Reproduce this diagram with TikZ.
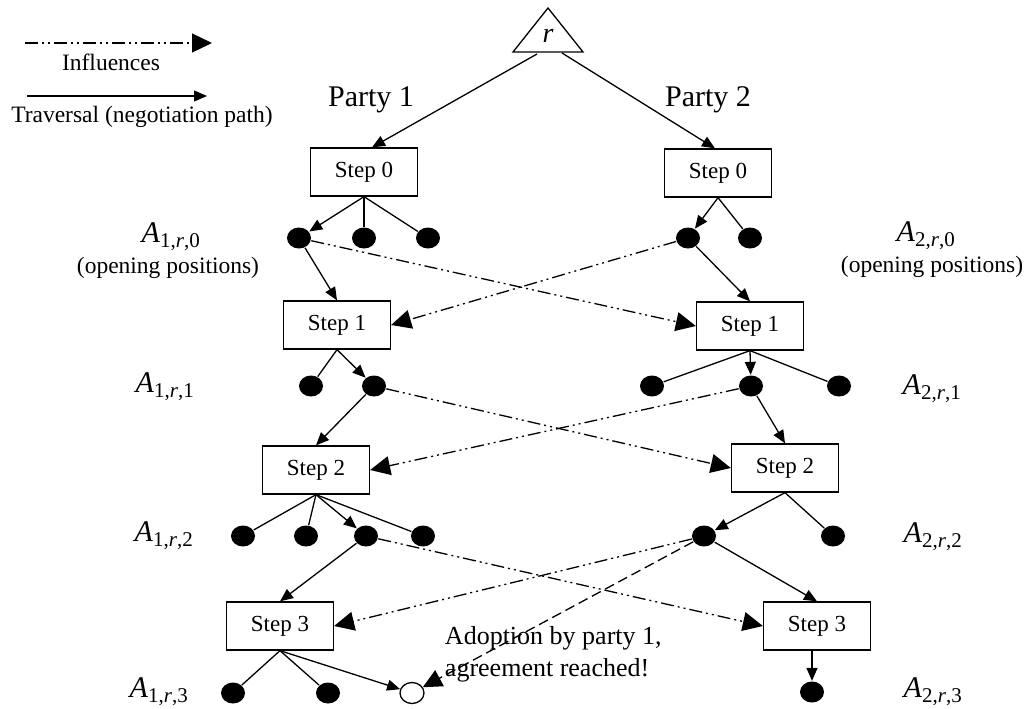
\documentclass[tikz,border=0pt]{standalone}
\usepackage{fontspec}
\setmainfont{Liberation Serif}
\usetikzlibrary{arrows.meta,shapes.geometric}

\begin{document}
\begin{tikzpicture}[x=1pt,y=-1pt,line width=1.3pt]
    \tikzstyle{stepbox}=[rectangle,draw,minimum width=107pt,minimum height=48pt,inner sep=0pt,font=\fontsize{23}{27}\selectfont]
    \tikzstyle{posdot}=[ellipse,fill=black,minimum width=24pt,minimum height=21pt,inner sep=0pt]
    \tikzstyle{adopted}=[ellipse,draw,fill=white,minimum width=24pt,minimum height=21pt,inner sep=0pt]
    \tikzstyle{trav}=[-{Triangle[length=13pt,width=11pt]}]
    \tikzstyle{infl}=[dash pattern=on 13pt off 4pt on 2pt off 4pt on 2pt off 4pt,-{Triangle[length=20pt,width=19pt]}]
    \tikzstyle{adoptline}=[dash pattern=on 10pt off 5pt,-{Triangle[length=19pt,width=18pt]}]
    \tikzstyle{lbl}=[font=\fontsize{23.5}{28}\selectfont]
    \tikzstyle{setname}=[font=\fontsize{30}{34}\selectfont,inner sep=0pt]

    \useasboundingbox (0,0) rectangle (1026,709);

    % legend
    \coordinate (inf-a) at (25,43);
    \coordinate (inf-b) at (212,43);
    \coordinate (trv-a) at (27,96);
    \coordinate (trv-b) at (207,96);
    \draw[infl] (inf-a) -- (inf-b);
    \draw[trav] (trv-a) -- (trv-b);
    \node[lbl] (inf-t) at (111,62) {Influences};
    \node[lbl] (trv-t) at (142,117) {Traversal (negotiation path)};

    % root
    \node[font=\fontsize{28}{30}\selectfont] (root) at (548,36) {\textit{r}};
    \draw (513,52) -- (548,8) -- (583,52) -- cycle;
    \coordinate (root-l) at (537,54);
    \coordinate (root-r) at (562,53);
    \node[font=\fontsize{30}{34}\selectfont] (party1) at (371,100) {Party 1};
    \node[font=\fontsize{30}{34}\selectfont] (party2) at (708,100) {Party 2};

    % steps and positions
    \foreach \p/\s/\x/\y in {1/0/364/172, 1/1/337/325, 1/2/316/470, 1/3/280/626,
                             2/0/718/173, 2/1/750/326, 2/2/785/468, 2/3/817/626}
        \node[stepbox] (S\p-\s) at (\x,\y) {Step \s};
    \foreach \p/\s/\k/\x/\y in {1/0/1/299/238, 1/0/2/364/238, 1/0/3/428/238,
                                2/0/1/688/238, 2/0/2/750/238,
                                1/1/1/311/386, 1/1/2/374/386,
                                2/1/1/652/386, 2/1/2/751/386, 2/1/3/839/386,
                                1/2/1/243/536, 1/2/2/306/536, 1/2/3/366/536, 1/2/4/423/536,
                                2/2/1/704/536, 2/2/2/833/536,
                                1/3/1/233/693, 1/3/2/328/693, 2/3/1/812/692}
        \node[posdot] (P\p-\s-\k) at (\x,\y) {};
    \node[adopted] (agree) at (412,693) {};

    % set labels
    \foreach \p/\s/\x/\y in {1/0/171/237, 1/1/165/387, 1/2/164/536, 1/3/159/692,
                             2/0/926/236, 2/1/932/389, 2/2/933/537, 2/3/933/692}
        \node[setname] (A\p-\s) at (\x,\y) {\textit{A}\textsubscript{\p,\textit{r},\s}};
    \node[lbl] (open1) at (168,268) {(opening positions)};
    \node[lbl] (open2) at (932,267) {(opening positions)};

    % traversal
    \draw[trav] (root-l) -- ([xshift=8pt]S1-0.north);
    \draw[trav] (root-r) -- ([xshift=-3pt]S2-0.north);
    \foreach \p/\s/\k in {1/0/2, 1/0/3, 2/0/2, 1/1/1, 2/1/1, 2/1/3,
                          1/2/1, 1/2/2, 1/2/4, 2/2/2, 1/3/1, 1/3/2}
        \draw (S\p-\s.south) -- (P\p-\s-\k);
    \foreach \p/\s/\k in {1/0/1, 2/0/1, 1/1/2, 2/1/2, 1/2/3, 2/2/1}
        \draw[trav] (S\p-\s.south) -- (P\p-\s-\k);
    \draw[trav] (S2-3.south -| P2-3-1) -- (P2-3-1);
    \draw[trav] (S1-3.south) -- (agree);
    \foreach \p/\s/\k/\t in {1/0/1/1, 2/0/1/1, 1/1/2/2, 2/1/2/2, 1/2/3/3, 2/2/1/3}
        \draw[trav] (P\p-\s-\k) -- (S\p-\t.north);

    % influences
    \foreach \a/\b in {P1-0-1/S2-1.west, P2-0-1/S1-1.east, P1-1-2/S2-2.west,
                       P2-1-2/S1-2.east, P1-2-3/S2-3.west, P2-2-1/S1-3.east}
        \draw[infl] (\a) -- (\b);

    % adoption
    \draw[adoptline] (P2-2-1) -- (agree);
    \node[font=\fontsize{26}{32}\selectfont,align=left,anchor=west] (adopt-t) at (441,654)
        {Adoption by party 1,\\agreement reached!};
\end{tikzpicture}
\end{document}
